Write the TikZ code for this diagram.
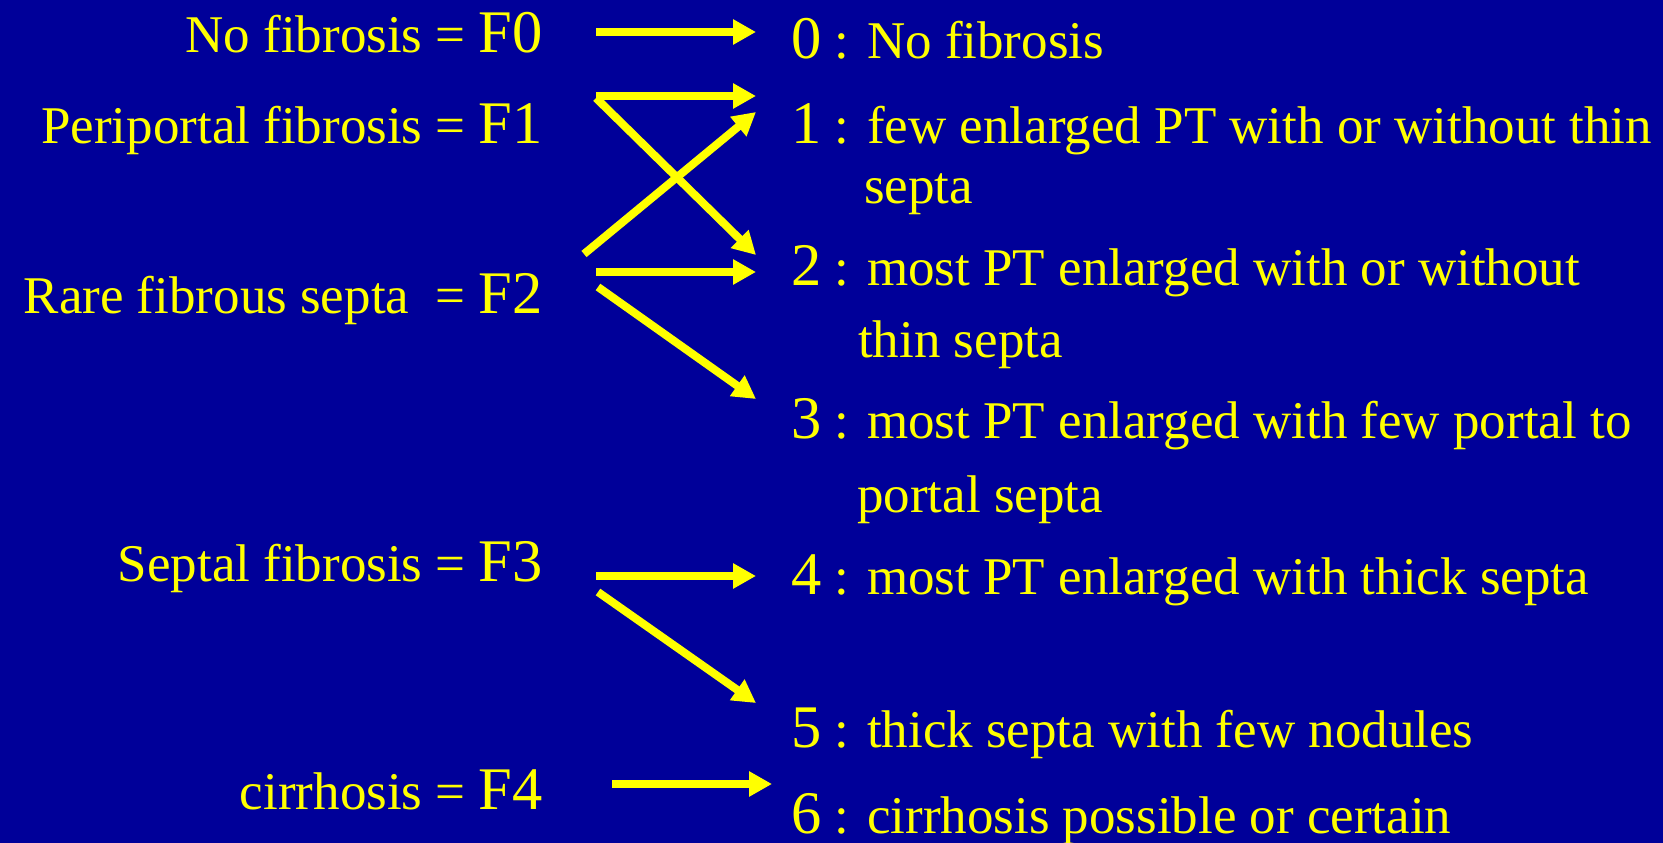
\documentclass[tikz,border=0pt]{standalone}
\usepackage{fontspec}
\setmainfont{Liberation Serif}
\usetikzlibrary{arrows.meta}

\definecolor{slidebg}{HTML}{000099}
\definecolor{slidefg}{HTML}{FFFF00}
\newcommand{\txtsz}{\fontsize{53}{60}\selectfont}
\newcommand{\bigsz}{\fontsize{60.5}{66}\selectfont}

\begin{document}
\begin{tikzpicture}[
  x=1pt, y=-1pt,
  font=\txtsz,
  every node/.style={text=slidefg, inner sep=0pt},
  stage/.style={anchor=base east},
  grade/.style={anchor=base west},
  link/.style={draw=slidefg, line width=8pt, -{Triangle[length=23pt,width=24pt]}}
]

% ----- Slide background
\fill[slidebg] (0,0) rectangle (1663,843);
\useasboundingbox (0,0) rectangle (1663,843);

% ----- METAVIR stages (left column)
\node[stage] at (543,53)  (f0) {No fibrosis = {\bigsz F0}};
\node[stage] at (543,143) (f1) {Periportal fibrosis = {\bigsz F1}};
\node[stage] at (543,313) (f2) {Rare fibrous septa \ = {\bigsz F2}};
\node[stage] at (543,581) (f3) {Septal fibrosis = {\bigsz F3}};
\node[stage] at (543,809) (f4) {cirrhosis = {\bigsz F4}};

% ----- Ishak grades (right column)
\node[grade] at (791,59)  (g0) {{\bigsz 0} : No fibrosis};
\node[grade] at (791,143) (g1) {{\bigsz 1} : few enlarged PT with or without thin};
\node[grade] at (864,203) (g1b) {septa};
\node[grade] at (791,285) (g2) {{\bigsz 2} : most PT enlarged with or without};
\node[grade] at (858,357) (g2b) {thin septa};
\node[grade] at (791,438) (g3) {{\bigsz 3} : most PT enlarged with few portal to};
\node[grade] at (857,512) (g3b) {portal septa};
\node[grade] at (791,594) (g4) {{\bigsz 4} : most PT enlarged with thick septa};
\node[grade] at (791,747) (g5) {{\bigsz 5} : thick septa with few nodules};
\node[grade] at (791,833) (g6) {{\bigsz 6} : cirrhosis possible or certain};

% ----- Arrow ports
\coordinate (f0o)  at (596,32);
\coordinate (f1o)  at (596,96);
\coordinate (f1od) at (596,98);
\coordinate (f2oa) at (584,254);
\coordinate (f2ob) at (596,272);
\coordinate (f2oc) at (598,287);
\coordinate (f3oa) at (596,576);
\coordinate (f3ob) at (598,592);
\coordinate (f4o)  at (612,784);

\coordinate (g0i)  at (756,32);
\coordinate (g1ia) at (756,96);
\coordinate (g1ib) at (756,112);
\coordinate (g2ia) at (756,255);
\coordinate (g2ib) at (756,272);
\coordinate (g3i)  at (756,399);
\coordinate (g4i)  at (756,576);
\coordinate (g5i)  at (756,703);
\coordinate (g6i)  at (772,784);

% ----- Correspondence arrows
\draw[link] (f0o) -- (g0i);
\draw[link] (f1o) -- (g1ia);
\draw[link] (f1od) -- (g2ia);
\draw[link] (f2oa) -- (g1ib);
\draw[link] (f2ob) -- (g2ib);
\draw[link] (f2oc) -- (g3i);
\draw[link] (f3oa) -- (g4i);
\draw[link] (f3ob) -- (g5i);
\draw[link] (f4o) -- (g6i);

\end{tikzpicture}
\end{document}
